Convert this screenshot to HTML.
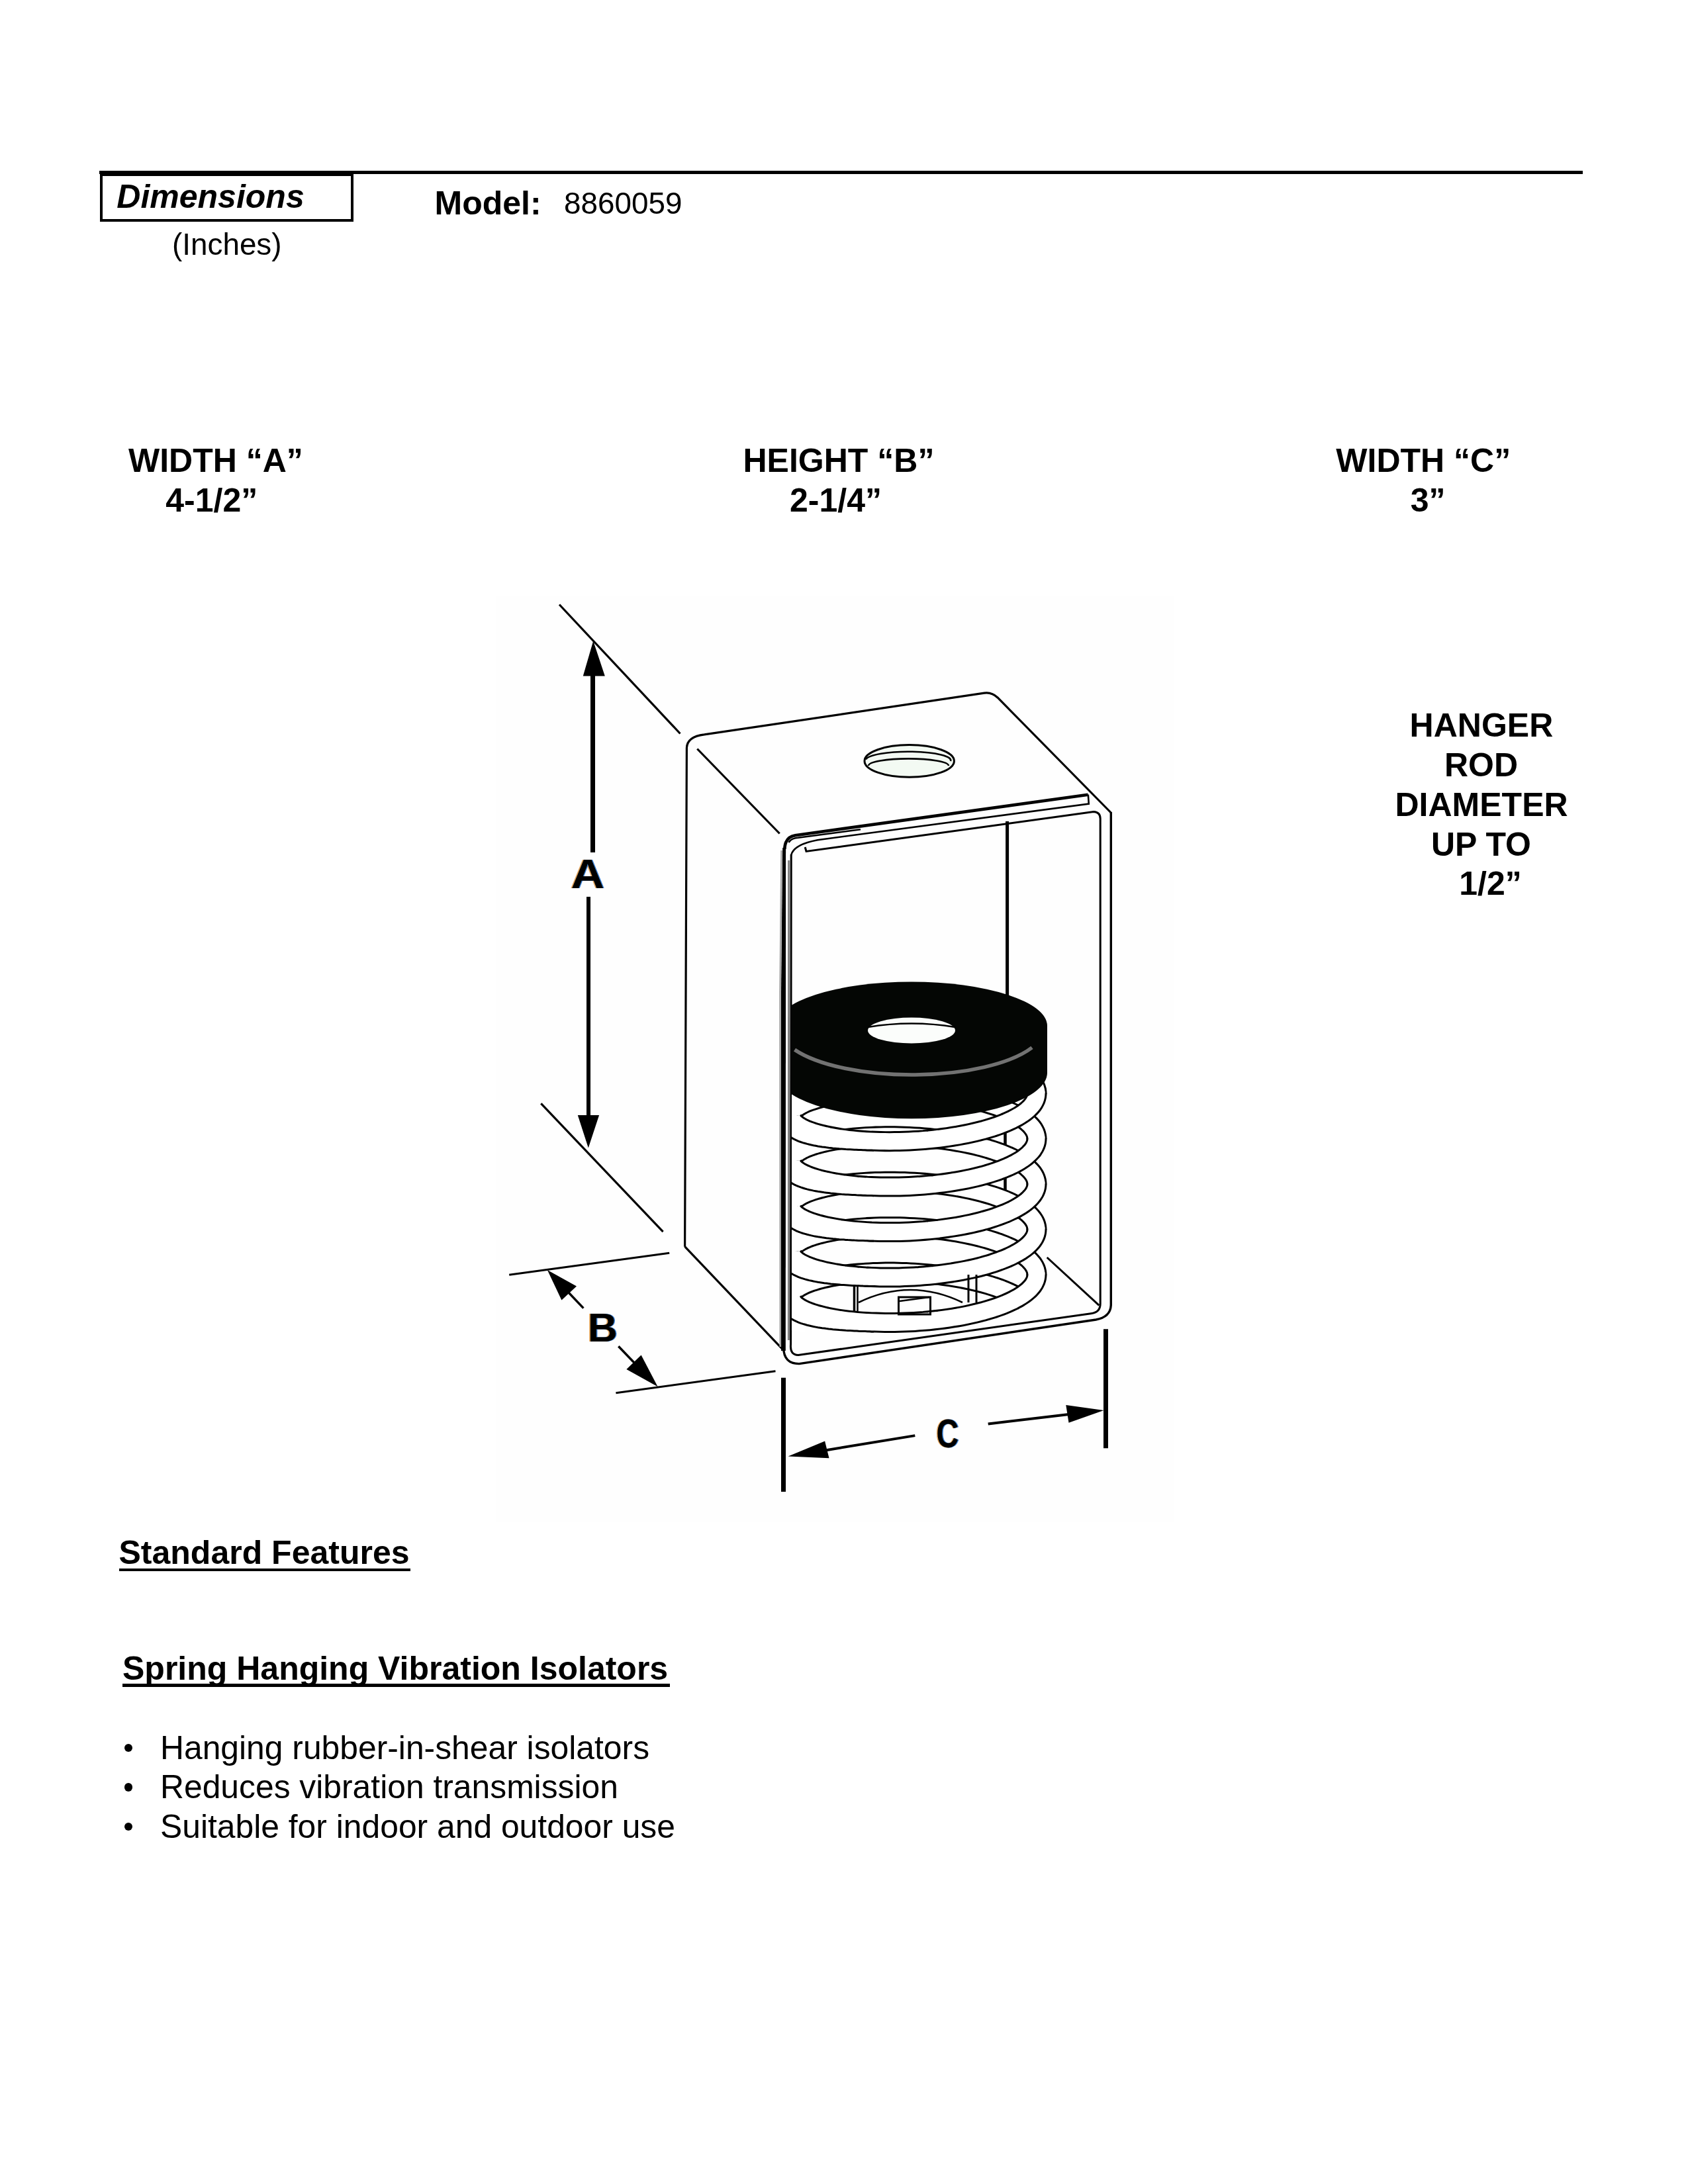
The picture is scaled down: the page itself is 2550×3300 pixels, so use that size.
<!DOCTYPE html>
<html><head><meta charset="utf-8">
<style>
html,body{margin:0;padding:0;background:#fff;}
body{width:2550px;height:3300px;position:relative;overflow:hidden;font-family:"Liberation Sans",sans-serif;color:#000;}
.t{position:absolute;white-space:pre;line-height:1;}
.b{font-weight:bold;font-size:50px;}
.r{font-size:45.83px;will-change:transform;}
.r12{font-size:49.8px;}
#hr{position:absolute;left:150px;top:258.4px;width:2241px;height:4.3px;background:#000;}
#box{position:absolute;left:151px;top:262px;width:375px;height:64.5px;border:4px solid #000;border-top-width:4.4px;}
.ul{position:absolute;background:#000;}
.dot{position:absolute;width:12.4px;height:12.4px;border-radius:50%;background:#000;}
</style></head>
<body>
<!--SVG-->
<svg style="position:absolute;left:0;top:0" width="2550" height="3300" viewBox="0 0 2550 3300">
<rect x="750" y="900" width="1024" height="1400" fill="#fefefe"/>
<line x1="845.0" y1="913.5" x2="1027.5" y2="1108.5" stroke="#000" stroke-width="3.2" />
<polygon points="896.2,968.5 913.8,1021.5 880.8,1021.5" fill="#000"/>
<line x1="895.5" y1="1020.0" x2="895.5" y2="1288.0" stroke="#000" stroke-width="7" />
<line x1="889.0" y1="1355.0" x2="889.0" y2="1686.0" stroke="#000" stroke-width="6" />
<polygon points="872.8,1685.0 905.1,1685.0 888.8,1734.6" fill="#000"/>
<line x1="817.3" y1="1667.3" x2="1001.6" y2="1861.2" stroke="#000" stroke-width="3.2" />
<line x1="769.2" y1="1926.3" x2="1011.2" y2="1893.3" stroke="#000" stroke-width="3" />
<line x1="930.4" y1="2104.8" x2="1171.5" y2="2071.8" stroke="#000" stroke-width="3" />
<polygon points="826.9,1918.9 871.0,1943.4 848.4,1964.6" fill="#000"/>
<line x1="858.0" y1="1952.0" x2="881.4" y2="1976.6" stroke="#000" stroke-width="3.4" />
<line x1="934.3" y1="2034.3" x2="959.0" y2="2060.0" stroke="#000" stroke-width="3.4" />
<polygon points="993.6,2095.2 946.4,2069.1 968.6,2047.5" fill="#000"/>
<line x1="1183.5" y1="2081.8" x2="1183.5" y2="2253.9" stroke="#000" stroke-width="7" />
<line x1="1670.5" y1="2008.2" x2="1670.5" y2="2188.3" stroke="#000" stroke-width="7" />
<polygon points="1190.6,2200.5 1246.1,2177.4 1252.5,2203.3" fill="#000"/>
<line x1="1248.0" y1="2191.2" x2="1382.3" y2="2169.1" stroke="#000" stroke-width="4" />
<line x1="1492.7" y1="2151.5" x2="1615.0" y2="2136.9" stroke="#000" stroke-width="4" />
<polygon points="1667.5,2131.0 1610.3,2123.1 1614.5,2149.7" fill="#000"/>
<path d="M1034.6,1883.7 L1037.4,1130 Q1038,1113 1064,1109.8 L1487,1047.2 Q1498,1045.5 1507,1054 L1678.3,1228" stroke="#000" stroke-width="3.2" fill="none" />
<path d="M1034.6,1883.7 L1181,2037.5" stroke="#000" stroke-width="3.2" fill="none" />
<line x1="1053.3" y1="1131.5" x2="1177.7" y2="1259.5" stroke="#000" stroke-width="3.2" />
<ellipse cx="1373.7" cy="1149.9" rx="67.7" ry="24.3" fill="#f3faf3" stroke="#000" stroke-width="3"/>
<path d="M1308,1147.5 A64,13 0 0 1 1436,1150" stroke="#000" stroke-width="2.6" fill="none" />
<path d="M1312,1157 A60,10.5 0 0 1 1433,1157" stroke="#000" stroke-width="2.6" fill="none" />
<path d="M1643.6,1200.8 L1201.3,1262.2 Q1186,1264.5 1185.3,1283" stroke="#000" stroke-width="4.6" fill="none" />
<path d="M1191.5,1273 Q1195,1266.5 1206,1265.8 L1300,1253.2" stroke="#000" stroke-width="2.6" fill="none" />
<path d="M1183.6,2036 Q1184,2061 1207.4,2060.6 L1655.6,1994 Q1677.5,1990 1678.3,1972 L1678.3,1227" stroke="#000" stroke-width="3.4" fill="none" />
<path d="M1182.2,1281 L1187.1,1281 L1186.8,2041 L1180,2041 L1180,1500 Z" fill="#000"/>
<path d="M1180.6,1285 L1178.5,1500 L1178.8,2035" fill="none" stroke="#a8a8a8" stroke-width="2.6"/>
<path d="M1195.2,1292 Q1199,1276 1235,1269.2 L1644.8,1214.5 L1643.8,1200.5" stroke="#000" stroke-width="2.6" fill="none" />
<path d="M1195.2,1291 L1194.6,2031 Q1193,2047.5 1206,2047.5 L1648,1984.7 Q1662.2,1983 1662.2,1970 L1662.2,1237 Q1662,1227 1652,1226.6 L1218,1286.4 L1216.2,1280" stroke="#000" stroke-width="3" fill="none" />
<line x1="1191.6" y1="1300" x2="1191.4" y2="2025" stroke="#808080" stroke-width="3"/>
<line x1="1581.7" y1="1900.0" x2="1660.3" y2="1972.4" stroke="#000" stroke-width="3" />
<line x1="1521.6" y1="1241.0" x2="1521.6" y2="1510.0" stroke="#000" stroke-width="5" />
<line x1="1518.5" y1="1690.0" x2="1518.5" y2="1830.0" stroke="#000" stroke-width="4.5" />
<clipPath id="spc"><rect x="1196" y="1600" width="466" height="440"/></clipPath>
<g clip-path="url(#spc)" fill="none" stroke-linecap="butt" stroke-linejoin="round">
<path d="M1547.1,1965.7 L1544.2,1963.7 L1541.2,1961.7 L1538.0,1959.8 L1534.6,1957.9 L1531.0,1956.0 L1527.3,1954.2 L1523.4,1952.4 L1519.3,1950.6 L1515.1,1948.9 L1510.7,1947.2 L1506.2,1945.6 L1501.5,1944.0 L1496.7,1942.5 L1491.7,1941.0 L1486.7,1939.6 L1481.5,1938.2 L1476.2,1936.8 L1470.8,1935.6 L1465.3,1934.3 L1459.7,1933.2 L1454.0,1932.0 L1448.2,1931.0 L1442.3,1930.0 L1436.4,1929.0 L1430.4,1928.1 L1424.3,1927.3 L1418.3,1926.5 L1412.1,1925.8 L1405.9,1925.2 L1399.7,1924.6 L1393.5,1924.1 L1387.3,1923.6 L1381.0,1923.2 L1374.8,1922.9 L1368.5,1922.6 L1362.3,1922.4 L1356.1,1922.2 L1349.9,1922.1 L1343.8,1922.1 L1337.7,1922.1 L1331.6,1922.2 L1325.6,1922.4 L1319.7,1922.6 L1313.9,1922.9 L1308.1,1923.2 L1302.4,1923.6 L1296.8,1924.0 L1291.2,1924.5 L1285.8,1925.0 L1280.5,1925.6 L1275.3,1926.3 L1270.3,1927.0 L1265.3,1927.7 L1260.5,1928.5 L1255.8,1929.4 L1251.3,1930.3 L1246.9,1931.2 L1242.7,1932.2 L1238.6,1933.2 L1234.7,1934.3 L1230.9,1935.4 L1227.4,1936.5 L1224.0,1937.7 L1220.7,1938.9 L1217.7,1940.1 L1214.8,1941.3 L1212.2,1942.6 L1209.7,1943.9 L1207.4,1945.3 L1205.3,1946.6 L1203.5,1948.0 L1201.8,1949.4 L1200.3,1950.8 L1199.0,1952.2 L1198.0,1953.7 L1197.1,1955.1 L1196.5,1956.6 L1196.1,1958.0 L1195.8,1959.5 L1195.8,1960.9" stroke="#000" stroke-width="31"/>
<path d="M1549.8,1967.8 L1547.1,1965.7 L1544.2,1963.6 L1541.1,1961.6 L1537.8,1959.6 L1534.3,1957.7 L1530.6,1955.8 L1526.7,1953.9 L1522.7,1952.1 L1518.5,1950.3 L1514.1,1948.5 L1509.6,1946.8 L1504.9,1945.2 L1500.1,1943.6 L1495.1,1942.0 L1490.0,1940.5 L1484.7,1939.0 L1479.4,1937.6 L1473.9,1936.3 L1468.3,1935.0 L1462.6,1933.8 L1456.8,1932.6 L1450.9,1931.5 L1444.9,1930.4 L1438.9,1929.4 L1432.7,1928.5 L1426.5,1927.6 L1420.3,1926.8 L1414.0,1926.0 L1407.7,1925.4 L1401.3,1924.7 L1395.0,1924.2 L1388.6,1923.7 L1382.2,1923.3 L1375.7,1922.9 L1369.3,1922.6 L1363.0,1922.4 L1356.6,1922.2 L1350.2,1922.1 L1343.9,1922.1 L1337.7,1922.1 L1331.5,1922.2 L1325.3,1922.4 L1319.3,1922.6 L1313.3,1922.9 L1307.3,1923.2 L1301.5,1923.6 L1295.7,1924.1 L1290.1,1924.6 L1284.6,1925.2 L1279.2,1925.8 L1273.9,1926.5 L1268.7,1927.2 L1263.7,1928.0 L1258.8,1928.8 L1254.0,1929.7 L1249.5,1930.6 L1245.0,1931.6 L1240.8,1932.6 L1236.6,1933.7 L1232.7,1934.8 L1229.0,1936.0 L1225.4,1937.1 L1222.0,1938.4 L1218.8,1939.6 L1215.8,1940.9 L1213.0,1942.2 L1210.4,1943.5 L1208.0,1944.9 L1205.8,1946.3 L1203.9,1947.7 L1202.1,1949.1 L1200.6,1950.6 L1199.2,1952.0 L1198.1,1953.5 L1197.2,1955.0 L1196.5,1956.5 L1196.1,1958.0 L1195.8,1959.5 L1195.8,1961.0 L1196.0,1962.5" stroke="#fff" stroke-width="25"/>
<path d="M1566.0,1927.1 L1565.9,1924.5 L1565.6,1921.9 L1565.0,1919.3 L1564.1,1916.8 L1562.9,1914.2 L1561.4,1911.7 L1559.7,1909.1 L1557.6,1906.7 L1555.3,1904.2 L1552.7,1901.7 L1549.8,1899.3 L1546.7,1897.0 L1543.3,1894.6 L1539.7,1892.3 L1535.8,1890.1 L1531.6,1887.9 L1527.2,1885.7 L1522.6,1883.6 L1517.8,1881.6 L1512.8,1879.6 L1507.5,1877.6 L1502.1,1875.8 L1496.4,1874.0 L1490.6,1872.2 L1484.6,1870.5 L1478.4,1868.9 L1472.1,1867.4 L1465.7,1866.0 L1459.1,1864.6 L1452.4,1863.3 L1445.6,1862.1 L1438.6,1860.9 L1431.6,1859.9 L1424.5,1858.9 L1417.4,1858.0 L1410.1,1857.2 L1402.9,1856.4 L1395.6,1855.8 L1388.2,1855.2 L1380.9,1854.8 L1373.6,1854.4 L1366.2,1854.1 L1358.9,1853.8 L1351.7,1853.7 L1344.4,1853.7 L1337.3,1853.7 L1330.2,1853.8 L1323.2,1854.0 L1316.2,1854.3 L1309.4,1854.6 L1302.7,1855.1 L1296.1,1855.6 L1289.7,1856.2 L1283.4,1856.9 L1277.2,1857.6 L1271.2,1858.4 L1265.4,1859.3 L1259.7,1860.2 L1254.3,1861.2 L1249.0,1862.3 L1244.0,1863.4 L1239.2,1864.6 L1234.6,1865.8 L1230.2,1867.1 L1226.0,1868.5 L1222.1,1869.9 L1218.5,1871.3 L1215.1,1872.8 L1212.0,1874.3 L1209.1,1875.8 L1206.5,1877.4 L1204.2,1879.0 L1202.1,1880.6 L1200.4,1882.3 L1198.9,1884.0 L1197.7,1885.7 L1196.8,1887.4 L1196.2,1889.1 L1195.9,1890.8 L1195.8,1892.5" stroke="#000" stroke-width="31"/>
<path d="M1565.8,1929.3 L1566.0,1926.7 L1565.9,1924.1 L1565.5,1921.4 L1564.8,1918.8 L1563.8,1916.2 L1562.6,1913.6 L1561.0,1911.0 L1559.1,1908.4 L1556.9,1905.9 L1554.4,1903.4 L1551.7,1900.9 L1548.7,1898.4 L1545.4,1896.0 L1541.8,1893.6 L1537.9,1891.3 L1533.8,1889.0 L1529.5,1886.8 L1524.9,1884.6 L1520.1,1882.5 L1515.0,1880.4 L1509.7,1878.4 L1504.2,1876.5 L1498.6,1874.6 L1492.7,1872.8 L1486.6,1871.1 L1480.4,1869.4 L1474.0,1867.8 L1467.4,1866.3 L1460.7,1864.9 L1453.9,1863.6 L1446.9,1862.3 L1439.9,1861.1 L1432.7,1860.0 L1425.5,1859.0 L1418.1,1858.1 L1410.8,1857.2 L1403.3,1856.5 L1395.9,1855.8 L1388.4,1855.2 L1380.9,1854.8 L1373.4,1854.4 L1365.9,1854.1 L1358.5,1853.8 L1351.0,1853.7 L1343.7,1853.7 L1336.3,1853.7 L1329.1,1853.8 L1321.9,1854.1 L1314.9,1854.4 L1307.9,1854.7 L1301.1,1855.2 L1294.4,1855.7 L1287.8,1856.4 L1281.4,1857.1 L1275.2,1857.8 L1269.1,1858.7 L1263.2,1859.6 L1257.6,1860.6 L1252.1,1861.7 L1246.8,1862.8 L1241.7,1864.0 L1236.9,1865.2 L1232.3,1866.5 L1228.0,1867.8 L1223.9,1869.2 L1220.0,1870.7 L1216.4,1872.2 L1213.1,1873.7 L1210.1,1875.3 L1207.4,1876.9 L1204.9,1878.5 L1202.7,1880.2 L1200.8,1881.8 L1199.2,1883.6 L1198.0,1885.3 L1197.0,1887.0 L1196.3,1888.8 L1195.9,1890.5 L1195.8,1892.3 L1196.0,1894.0" stroke="#fff" stroke-width="25"/>
<path d="M1566.0,1858.6 L1565.9,1856.0 L1565.6,1853.4 L1565.0,1850.9 L1564.1,1848.3 L1562.9,1845.8 L1561.4,1843.2 L1559.7,1840.7 L1557.6,1838.2 L1555.3,1835.7 L1552.7,1833.3 L1549.8,1830.9 L1546.7,1828.5 L1543.3,1826.2 L1539.7,1823.9 L1535.8,1821.6 L1531.6,1819.4 L1527.2,1817.3 L1522.6,1815.2 L1517.8,1813.1 L1512.8,1811.1 L1507.5,1809.2 L1502.1,1807.3 L1496.4,1805.5 L1490.6,1803.8 L1484.6,1802.1 L1478.4,1800.5 L1472.1,1799.0 L1465.7,1797.5 L1459.1,1796.1 L1452.4,1794.8 L1445.6,1793.6 L1438.6,1792.5 L1431.6,1791.4 L1424.5,1790.4 L1417.4,1789.5 L1410.1,1788.7 L1402.9,1788.0 L1395.6,1787.3 L1388.2,1786.8 L1380.9,1786.3 L1373.6,1785.9 L1366.2,1785.6 L1358.9,1785.4 L1351.7,1785.3 L1344.4,1785.2 L1337.3,1785.2 L1330.2,1785.4 L1323.2,1785.6 L1316.2,1785.8 L1309.4,1786.2 L1302.7,1786.6 L1296.1,1787.1 L1289.7,1787.7 L1283.4,1788.4 L1277.2,1789.1 L1271.2,1789.9 L1265.4,1790.8 L1259.7,1791.8 L1254.3,1792.8 L1249.0,1793.8 L1244.0,1795.0 L1239.2,1796.2 L1234.6,1797.4 L1230.2,1798.7 L1226.0,1800.0 L1222.1,1801.4 L1218.5,1802.8 L1215.1,1804.3 L1212.0,1805.8 L1209.1,1807.4 L1206.5,1809.0 L1204.2,1810.6 L1202.1,1812.2 L1200.4,1813.8 L1198.9,1815.5 L1197.7,1817.2 L1196.8,1818.9 L1196.2,1820.6 L1195.9,1822.3 L1195.8,1824.0" stroke="#000" stroke-width="31"/>
<path d="M1565.8,1860.9 L1566.0,1858.2 L1565.9,1855.6 L1565.5,1853.0 L1564.8,1850.3 L1563.8,1847.7 L1562.6,1845.1 L1561.0,1842.5 L1559.1,1840.0 L1556.9,1837.4 L1554.4,1834.9 L1551.7,1832.4 L1548.7,1830.0 L1545.4,1827.6 L1541.8,1825.2 L1537.9,1822.9 L1533.8,1820.6 L1529.5,1818.3 L1524.9,1816.2 L1520.1,1814.0 L1515.0,1812.0 L1509.7,1810.0 L1504.2,1808.0 L1498.6,1806.2 L1492.7,1804.4 L1486.6,1802.6 L1480.4,1801.0 L1474.0,1799.4 L1467.4,1797.9 L1460.7,1796.5 L1453.9,1795.1 L1446.9,1793.8 L1439.9,1792.7 L1432.7,1791.6 L1425.5,1790.6 L1418.1,1789.6 L1410.8,1788.8 L1403.3,1788.0 L1395.9,1787.4 L1388.4,1786.8 L1380.9,1786.3 L1373.4,1785.9 L1365.9,1785.6 L1358.5,1785.4 L1351.0,1785.3 L1343.7,1785.2 L1336.3,1785.3 L1329.1,1785.4 L1321.9,1785.6 L1314.9,1785.9 L1307.9,1786.3 L1301.1,1786.8 L1294.4,1787.3 L1287.8,1787.9 L1281.4,1788.6 L1275.2,1789.4 L1269.1,1790.2 L1263.2,1791.2 L1257.6,1792.2 L1252.1,1793.2 L1246.8,1794.3 L1241.7,1795.5 L1236.9,1796.7 L1232.3,1798.0 L1228.0,1799.4 L1223.9,1800.8 L1220.0,1802.2 L1216.4,1803.7 L1213.1,1805.3 L1210.1,1806.8 L1207.4,1808.4 L1204.9,1810.1 L1202.7,1811.7 L1200.8,1813.4 L1199.2,1815.1 L1198.0,1816.8 L1197.0,1818.6 L1196.3,1820.3 L1195.9,1822.1 L1195.8,1823.8 L1196.0,1825.6" stroke="#fff" stroke-width="25"/>
<path d="M1566.0,1790.2 L1565.9,1787.6 L1565.6,1785.0 L1565.0,1782.4 L1564.1,1779.9 L1562.9,1777.3 L1561.4,1774.8 L1559.7,1772.2 L1557.6,1769.8 L1555.3,1767.3 L1552.7,1764.8 L1549.8,1762.4 L1546.7,1760.1 L1543.3,1757.7 L1539.7,1755.4 L1535.8,1753.2 L1531.6,1751.0 L1527.2,1748.8 L1522.6,1746.7 L1517.8,1744.7 L1512.8,1742.7 L1507.5,1740.7 L1502.1,1738.9 L1496.4,1737.1 L1490.6,1735.3 L1484.6,1733.6 L1478.4,1732.0 L1472.1,1730.5 L1465.7,1729.1 L1459.1,1727.7 L1452.4,1726.4 L1445.6,1725.2 L1438.6,1724.0 L1431.6,1723.0 L1424.5,1722.0 L1417.4,1721.1 L1410.1,1720.3 L1402.9,1719.5 L1395.6,1718.9 L1388.2,1718.3 L1380.9,1717.9 L1373.6,1717.5 L1366.2,1717.2 L1358.9,1716.9 L1351.7,1716.8 L1344.4,1716.8 L1337.3,1716.8 L1330.2,1716.9 L1323.2,1717.1 L1316.2,1717.4 L1309.4,1717.7 L1302.7,1718.2 L1296.1,1718.7 L1289.7,1719.3 L1283.4,1720.0 L1277.2,1720.7 L1271.2,1721.5 L1265.4,1722.4 L1259.7,1723.3 L1254.3,1724.3 L1249.0,1725.4 L1244.0,1726.5 L1239.2,1727.7 L1234.6,1728.9 L1230.2,1730.2 L1226.0,1731.6 L1222.1,1733.0 L1218.5,1734.4 L1215.1,1735.9 L1212.0,1737.4 L1209.1,1738.9 L1206.5,1740.5 L1204.2,1742.1 L1202.1,1743.7 L1200.4,1745.4 L1198.9,1747.1 L1197.7,1748.8 L1196.8,1750.5 L1196.2,1752.2 L1195.9,1753.9 L1195.8,1755.6" stroke="#000" stroke-width="31"/>
<path d="M1565.8,1792.4 L1566.0,1789.8 L1565.9,1787.2 L1565.5,1784.5 L1564.8,1781.9 L1563.8,1779.3 L1562.6,1776.7 L1561.0,1774.1 L1559.1,1771.5 L1556.9,1769.0 L1554.4,1766.5 L1551.7,1764.0 L1548.7,1761.5 L1545.4,1759.1 L1541.8,1756.7 L1537.9,1754.4 L1533.8,1752.1 L1529.5,1749.9 L1524.9,1747.7 L1520.1,1745.6 L1515.0,1743.5 L1509.7,1741.5 L1504.2,1739.6 L1498.6,1737.7 L1492.7,1735.9 L1486.6,1734.2 L1480.4,1732.5 L1474.0,1730.9 L1467.4,1729.4 L1460.7,1728.0 L1453.9,1726.7 L1446.9,1725.4 L1439.9,1724.2 L1432.7,1723.1 L1425.5,1722.1 L1418.1,1721.2 L1410.8,1720.3 L1403.3,1719.6 L1395.9,1718.9 L1388.4,1718.3 L1380.9,1717.9 L1373.4,1717.5 L1365.9,1717.2 L1358.5,1716.9 L1351.0,1716.8 L1343.7,1716.8 L1336.3,1716.8 L1329.1,1716.9 L1321.9,1717.2 L1314.9,1717.5 L1307.9,1717.8 L1301.1,1718.3 L1294.4,1718.8 L1287.8,1719.5 L1281.4,1720.2 L1275.2,1720.9 L1269.1,1721.8 L1263.2,1722.7 L1257.6,1723.7 L1252.1,1724.8 L1246.8,1725.9 L1241.7,1727.1 L1236.9,1728.3 L1232.3,1729.6 L1228.0,1730.9 L1223.9,1732.3 L1220.0,1733.8 L1216.4,1735.3 L1213.1,1736.8 L1210.1,1738.4 L1207.4,1740.0 L1204.9,1741.6 L1202.7,1743.3 L1200.8,1744.9 L1199.2,1746.7 L1198.0,1748.4 L1197.0,1750.1 L1196.3,1751.9 L1195.9,1753.6 L1195.8,1755.4 L1196.0,1757.1" stroke="#fff" stroke-width="25"/>
<path d="M1566.0,1721.7 L1565.9,1719.1 L1565.6,1716.5 L1565.0,1714.0 L1564.1,1711.4 L1562.9,1708.9 L1561.4,1706.3 L1559.7,1703.8 L1557.6,1701.3 L1555.3,1698.8 L1552.7,1696.4 L1549.8,1694.0 L1546.7,1691.6 L1543.3,1689.3 L1539.7,1687.0 L1535.8,1684.7 L1531.6,1682.5 L1527.2,1680.4 L1522.6,1678.3 L1517.8,1676.2 L1512.8,1674.2 L1507.5,1672.3 L1502.1,1670.4 L1496.4,1668.6 L1490.6,1666.9 L1484.6,1665.2 L1478.4,1663.6 L1472.1,1662.1 L1465.7,1660.6 L1459.1,1659.2 L1452.4,1657.9 L1445.6,1656.7 L1438.6,1655.6 L1431.6,1654.5 L1424.5,1653.5 L1417.4,1652.6 L1410.1,1651.8 L1402.9,1651.1 L1395.6,1650.4 L1388.2,1649.9 L1380.9,1649.4 L1373.6,1649.0 L1366.2,1648.7 L1358.9,1648.5 L1351.7,1648.4 L1344.4,1648.3 L1337.3,1648.3 L1330.2,1648.5 L1323.2,1648.7 L1316.2,1648.9 L1309.4,1649.3 L1302.7,1649.7 L1296.1,1650.2 L1289.7,1650.8 L1283.4,1651.5 L1277.2,1652.2 L1271.2,1653.0 L1265.4,1653.9 L1259.7,1654.9 L1254.3,1655.9 L1249.0,1656.9 L1244.0,1658.1 L1239.2,1659.3 L1234.6,1660.5 L1230.2,1661.8 L1226.0,1663.1 L1222.1,1664.5 L1218.5,1665.9 L1215.1,1667.4 L1212.0,1668.9 L1209.1,1670.5 L1206.5,1672.1 L1204.2,1673.7 L1202.1,1675.3 L1200.4,1676.9 L1198.9,1678.6 L1197.7,1680.3 L1196.8,1682.0 L1196.2,1683.7 L1195.9,1685.4 L1195.8,1687.1" stroke="#000" stroke-width="31"/>
<path d="M1565.8,1724.0 L1566.0,1721.3 L1565.9,1718.7 L1565.5,1716.1 L1564.8,1713.4 L1563.8,1710.8 L1562.6,1708.2 L1561.0,1705.6 L1559.1,1703.1 L1556.9,1700.5 L1554.4,1698.0 L1551.7,1695.5 L1548.7,1693.1 L1545.4,1690.7 L1541.8,1688.3 L1537.9,1686.0 L1533.8,1683.7 L1529.5,1681.4 L1524.9,1679.3 L1520.1,1677.1 L1515.0,1675.1 L1509.7,1673.1 L1504.2,1671.1 L1498.6,1669.3 L1492.7,1667.5 L1486.6,1665.7 L1480.4,1664.1 L1474.0,1662.5 L1467.4,1661.0 L1460.7,1659.6 L1453.9,1658.2 L1446.9,1656.9 L1439.9,1655.8 L1432.7,1654.7 L1425.5,1653.7 L1418.1,1652.7 L1410.8,1651.9 L1403.3,1651.1 L1395.9,1650.5 L1388.4,1649.9 L1380.9,1649.4 L1373.4,1649.0 L1365.9,1648.7 L1358.5,1648.5 L1351.0,1648.4 L1343.7,1648.3 L1336.3,1648.4 L1329.1,1648.5 L1321.9,1648.7 L1314.9,1649.0 L1307.9,1649.4 L1301.1,1649.9 L1294.4,1650.4 L1287.8,1651.0 L1281.4,1651.7 L1275.2,1652.5 L1269.1,1653.3 L1263.2,1654.3 L1257.6,1655.3 L1252.1,1656.3 L1246.8,1657.4 L1241.7,1658.6 L1236.9,1659.8 L1232.3,1661.1 L1228.0,1662.5 L1223.9,1663.9 L1220.0,1665.3 L1216.4,1666.8 L1213.1,1668.4 L1210.1,1669.9 L1207.4,1671.5 L1204.9,1673.2 L1202.7,1674.8 L1200.8,1676.5 L1199.2,1678.2 L1198.0,1679.9 L1197.0,1681.7 L1196.3,1683.4 L1195.9,1685.2 L1195.8,1686.9 L1196.0,1688.7" stroke="#fff" stroke-width="25"/>
<path d="M1566.0,1653.3 L1566.0,1652.7 L1566.0,1652.2 L1566.0,1651.6 L1566.0,1651.1 L1565.9,1650.6 L1565.9,1650.0 L1565.8,1649.5 L1565.8,1649.0 L1565.7,1648.4 L1565.6,1647.9 L1565.5,1647.4 L1565.4,1646.8 L1565.2,1646.3 L1565.1,1645.8 L1564.9,1645.2 L1564.7,1644.7 L1564.6,1644.2 L1564.4,1643.6 L1564.2,1643.1 L1563.9,1642.6 L1563.7,1642.0 L1563.5,1641.5 L1563.2,1641.0 L1562.9,1640.5 L1562.6,1639.9 L1562.3,1639.4 L1562.0,1638.9 L1561.7,1638.3 L1561.4,1637.8 L1561.0,1637.3 L1560.7,1636.8 L1560.3,1636.2 L1559.9,1635.7 L1559.5,1635.2 L1559.1,1634.7 L1558.7,1634.2 L1558.3,1633.7 L1557.9,1633.1 L1557.4,1632.6 L1556.9,1632.1 L1556.5,1631.6 L1556.0,1631.1 L1555.5,1630.6 L1555.0,1630.1 L1554.4,1629.5 L1553.9,1629.0 L1553.4,1628.5 L1552.8,1628.0 L1552.2,1627.5 L1551.6,1627.0 L1551.0,1626.5 L1550.4,1626.0 L1549.8,1625.5 L1549.2,1625.0 L1548.6,1624.5 L1547.9,1624.0 L1547.2,1623.6 L1546.6,1623.1 L1545.9,1622.6 L1545.2,1622.1 L1544.5,1621.6 L1543.8,1621.1 L1543.0,1620.6 L1542.3,1620.2 L1541.5,1619.7 L1540.8,1619.2 L1540.0,1618.7 L1539.2,1618.3 L1538.4,1617.8 L1537.6,1617.3 L1536.8,1616.9 L1536.0,1616.4 L1535.1,1615.9 L1534.3,1615.5 L1533.4,1615.0 L1532.6,1614.6 L1531.7,1614.1 L1530.8,1613.7 L1529.9,1613.2 L1529.0,1612.8" stroke="#000" stroke-width="31"/>
<path d="M1565.8,1655.5 L1565.8,1654.9 L1565.9,1654.3 L1566.0,1653.8 L1566.0,1653.2 L1566.0,1652.6 L1566.0,1652.0 L1566.0,1651.4 L1566.0,1650.8 L1565.9,1650.2 L1565.8,1649.6 L1565.8,1649.0 L1565.7,1648.4 L1565.6,1647.8 L1565.4,1647.2 L1565.3,1646.6 L1565.2,1646.1 L1565.0,1645.5 L1564.8,1644.9 L1564.6,1644.3 L1564.4,1643.7 L1564.2,1643.1 L1563.9,1642.5 L1563.7,1641.9 L1563.4,1641.4 L1563.1,1640.8 L1562.8,1640.2 L1562.5,1639.6 L1562.1,1639.0 L1561.8,1638.4 L1561.4,1637.9 L1561.0,1637.3 L1560.6,1636.7 L1560.2,1636.1 L1559.8,1635.5 L1559.4,1635.0 L1558.9,1634.4 L1558.4,1633.8 L1558.0,1633.2 L1557.5,1632.7 L1556.9,1632.1 L1556.4,1631.5 L1555.9,1631.0 L1555.3,1630.4 L1554.7,1629.8 L1554.2,1629.3 L1553.6,1628.7 L1552.9,1628.2 L1552.3,1627.6 L1551.7,1627.0 L1551.0,1626.5 L1550.3,1625.9 L1549.7,1625.4 L1549.0,1624.8 L1548.2,1624.3 L1547.5,1623.8 L1546.8,1623.2 L1546.0,1622.7 L1545.3,1622.1 L1544.5,1621.6 L1543.7,1621.1 L1542.9,1620.5 L1542.0,1620.0 L1541.2,1619.5 L1540.4,1618.9 L1539.5,1618.4 L1538.6,1617.9 L1537.7,1617.4 L1536.8,1616.9 L1535.9,1616.4 L1535.0,1615.8 L1534.0,1615.3 L1533.1,1614.8 L1532.1,1614.3 L1531.2,1613.8 L1530.2,1613.3 L1529.2,1612.8 L1528.1,1612.3 L1527.1,1611.8 L1526.1,1611.4 L1525.0,1610.9" stroke="#fff" stroke-width="25"/>
<path d="M1195.8,1959.7 L1195.9,1961.4 L1196.2,1963.1 L1196.8,1964.8 L1197.7,1966.5 L1198.9,1968.2 L1200.4,1969.9 L1202.1,1971.5 L1204.2,1973.1 L1206.5,1974.7 L1209.1,1976.3 L1212.0,1977.9 L1215.1,1979.4 L1218.5,1980.9 L1222.1,1982.3 L1226.0,1983.7 L1230.2,1985.0 L1234.6,1986.3 L1239.2,1987.5 L1244.0,1988.7 L1249.0,1989.9 L1254.3,1990.9 L1259.7,1991.9 L1265.4,1992.9 L1271.2,1993.8 L1277.2,1994.6 L1283.4,1995.3 L1289.7,1996.0 L1296.1,1996.6 L1302.7,1997.1 L1309.4,1997.5 L1316.2,1997.9 L1323.2,1998.1 L1330.2,1998.3 L1337.3,1998.5 L1344.4,1998.5 L1351.7,1998.4 L1358.9,1998.3 L1366.2,1998.1 L1373.6,1997.8 L1380.9,1997.4 L1388.2,1996.9 L1395.6,1996.4 L1402.9,1995.7 L1410.1,1995.0 L1417.4,1994.2 L1424.5,1993.3 L1431.6,1992.3 L1438.6,1991.2 L1445.6,1990.1 L1452.4,1988.9 L1459.1,1987.6 L1465.7,1986.2 L1472.1,1984.7 L1478.4,1983.2 L1484.6,1981.6 L1490.6,1979.9 L1496.4,1978.2 L1502.1,1976.4 L1507.5,1974.5 L1512.8,1972.6 L1517.8,1970.6 L1522.6,1968.5 L1527.2,1966.4 L1531.6,1964.3 L1535.8,1962.1 L1539.7,1959.8 L1543.3,1957.5 L1546.7,1955.2 L1549.8,1952.8 L1552.7,1950.4 L1555.3,1948.0 L1557.6,1945.5 L1559.7,1943.0 L1561.4,1940.5 L1562.9,1937.9 L1564.1,1935.4 L1565.0,1932.8 L1565.6,1930.3 L1565.9,1927.7 L1566.0,1925.1" stroke="#000" stroke-width="31"/>
<path d="M1196.0,1958.1 L1195.8,1959.9 L1195.9,1961.6 L1196.3,1963.4 L1197.0,1965.1 L1198.0,1966.9 L1199.2,1968.6 L1200.8,1970.3 L1202.7,1972.0 L1204.9,1973.6 L1207.4,1975.3 L1210.1,1976.9 L1213.1,1978.4 L1216.4,1980.0 L1220.0,1981.5 L1223.9,1982.9 L1228.0,1984.3 L1232.3,1985.7 L1236.9,1987.0 L1241.7,1988.2 L1246.8,1989.4 L1252.1,1990.5 L1257.6,1991.5 L1263.2,1992.5 L1269.1,1993.5 L1275.2,1994.3 L1281.4,1995.1 L1287.8,1995.8 L1294.4,1996.4 L1301.1,1996.9 L1307.9,1997.4 L1314.9,1997.8 L1321.9,1998.1 L1329.1,1998.3 L1336.3,1998.4 L1343.7,1998.5 L1351.0,1998.4 L1358.5,1998.3 L1365.9,1998.1 L1373.4,1997.8 L1380.9,1997.4 L1388.4,1996.9 L1395.9,1996.3 L1403.3,1995.7 L1410.8,1994.9 L1418.1,1994.1 L1425.5,1993.1 L1432.7,1992.1 L1439.9,1991.0 L1446.9,1989.9 L1453.9,1988.6 L1460.7,1987.2 L1467.4,1985.8 L1474.0,1984.3 L1480.4,1982.7 L1486.6,1981.1 L1492.7,1979.3 L1498.6,1977.5 L1504.2,1975.7 L1509.7,1973.7 L1515.0,1971.7 L1520.1,1969.7 L1524.9,1967.5 L1529.5,1965.4 L1533.8,1963.1 L1537.9,1960.8 L1541.8,1958.5 L1545.4,1956.1 L1548.7,1953.7 L1551.7,1951.3 L1554.4,1948.8 L1556.9,1946.3 L1559.1,1943.7 L1561.0,1941.2 L1562.6,1938.6 L1563.8,1936.0 L1564.8,1933.4 L1565.5,1930.7 L1565.9,1928.1 L1566.0,1925.5 L1565.8,1922.8" stroke="#fff" stroke-width="25"/>
<path d="M1195.8,1891.2 L1195.9,1892.9 L1196.2,1894.6 L1196.8,1896.3 L1197.7,1898.0 L1198.9,1899.7 L1200.4,1901.4 L1202.1,1903.1 L1204.2,1904.7 L1206.5,1906.3 L1209.1,1907.9 L1212.0,1909.4 L1215.1,1910.9 L1218.5,1912.4 L1222.1,1913.8 L1226.0,1915.2 L1230.2,1916.6 L1234.6,1917.9 L1239.2,1919.1 L1244.0,1920.3 L1249.0,1921.4 L1254.3,1922.5 L1259.7,1923.5 L1265.4,1924.4 L1271.2,1925.3 L1277.2,1926.1 L1283.4,1926.8 L1289.7,1927.5 L1296.1,1928.1 L1302.7,1928.6 L1309.4,1929.1 L1316.2,1929.4 L1323.2,1929.7 L1330.2,1929.9 L1337.3,1930.0 L1344.4,1930.0 L1351.7,1930.0 L1358.9,1929.9 L1366.2,1929.6 L1373.6,1929.3 L1380.9,1928.9 L1388.2,1928.5 L1395.6,1927.9 L1402.9,1927.3 L1410.1,1926.5 L1417.4,1925.7 L1424.5,1924.8 L1431.6,1923.8 L1438.6,1922.8 L1445.6,1921.6 L1452.4,1920.4 L1459.1,1919.1 L1465.7,1917.7 L1472.1,1916.3 L1478.4,1914.8 L1484.6,1913.2 L1490.6,1911.5 L1496.4,1909.7 L1502.1,1907.9 L1507.5,1906.1 L1512.8,1904.1 L1517.8,1902.1 L1522.6,1900.1 L1527.2,1898.0 L1531.6,1895.8 L1535.8,1893.6 L1539.7,1891.4 L1543.3,1889.1 L1546.7,1886.7 L1549.8,1884.4 L1552.7,1882.0 L1555.3,1879.5 L1557.6,1877.0 L1559.7,1874.6 L1561.4,1872.0 L1562.9,1869.5 L1564.1,1866.9 L1565.0,1864.4 L1565.6,1861.8 L1565.9,1859.2 L1566.0,1856.6" stroke="#000" stroke-width="31"/>
<path d="M1196.0,1889.7 L1195.8,1891.4 L1195.9,1893.2 L1196.3,1894.9 L1197.0,1896.7 L1198.0,1898.4 L1199.2,1900.1 L1200.8,1901.9 L1202.7,1903.5 L1204.9,1905.2 L1207.4,1906.8 L1210.1,1908.4 L1213.1,1910.0 L1216.4,1911.5 L1220.0,1913.0 L1223.9,1914.5 L1228.0,1915.9 L1232.3,1917.2 L1236.9,1918.5 L1241.7,1919.7 L1246.8,1920.9 L1252.1,1922.0 L1257.6,1923.1 L1263.2,1924.1 L1269.1,1925.0 L1275.2,1925.9 L1281.4,1926.6 L1287.8,1927.3 L1294.4,1928.0 L1301.1,1928.5 L1307.9,1929.0 L1314.9,1929.3 L1321.9,1929.6 L1329.1,1929.9 L1336.3,1930.0 L1343.7,1930.0 L1351.0,1930.0 L1358.5,1929.9 L1365.9,1929.6 L1373.4,1929.3 L1380.9,1928.9 L1388.4,1928.5 L1395.9,1927.9 L1403.3,1927.2 L1410.8,1926.5 L1418.1,1925.6 L1425.5,1924.7 L1432.7,1923.7 L1439.9,1922.6 L1446.9,1921.4 L1453.9,1920.1 L1460.7,1918.8 L1467.4,1917.4 L1474.0,1915.9 L1480.4,1914.3 L1486.6,1912.6 L1492.7,1910.9 L1498.6,1909.1 L1504.2,1907.2 L1509.7,1905.3 L1515.0,1903.3 L1520.1,1901.2 L1524.9,1899.1 L1529.5,1896.9 L1533.8,1894.7 L1537.9,1892.4 L1541.8,1890.1 L1545.4,1887.7 L1548.7,1885.3 L1551.7,1882.8 L1554.4,1880.3 L1556.9,1877.8 L1559.1,1875.3 L1561.0,1872.7 L1562.6,1870.1 L1563.8,1867.5 L1564.8,1864.9 L1565.5,1862.3 L1565.9,1859.6 L1566.0,1857.0 L1565.8,1854.4" stroke="#fff" stroke-width="25"/>
<path d="M1195.8,1822.8 L1195.9,1824.5 L1196.2,1826.2 L1196.8,1827.9 L1197.7,1829.6 L1198.9,1831.3 L1200.4,1833.0 L1202.1,1834.6 L1204.2,1836.2 L1206.5,1837.8 L1209.1,1839.4 L1212.0,1841.0 L1215.1,1842.5 L1218.5,1844.0 L1222.1,1845.4 L1226.0,1846.8 L1230.2,1848.1 L1234.6,1849.4 L1239.2,1850.6 L1244.0,1851.8 L1249.0,1853.0 L1254.3,1854.0 L1259.7,1855.0 L1265.4,1856.0 L1271.2,1856.9 L1277.2,1857.7 L1283.4,1858.4 L1289.7,1859.1 L1296.1,1859.7 L1302.7,1860.2 L1309.4,1860.6 L1316.2,1861.0 L1323.2,1861.2 L1330.2,1861.4 L1337.3,1861.6 L1344.4,1861.6 L1351.7,1861.5 L1358.9,1861.4 L1366.2,1861.2 L1373.6,1860.9 L1380.9,1860.5 L1388.2,1860.0 L1395.6,1859.5 L1402.9,1858.8 L1410.1,1858.1 L1417.4,1857.3 L1424.5,1856.4 L1431.6,1855.4 L1438.6,1854.3 L1445.6,1853.2 L1452.4,1852.0 L1459.1,1850.7 L1465.7,1849.3 L1472.1,1847.8 L1478.4,1846.3 L1484.6,1844.7 L1490.6,1843.0 L1496.4,1841.3 L1502.1,1839.5 L1507.5,1837.6 L1512.8,1835.7 L1517.8,1833.7 L1522.6,1831.6 L1527.2,1829.5 L1531.6,1827.4 L1535.8,1825.2 L1539.7,1822.9 L1543.3,1820.6 L1546.7,1818.3 L1549.8,1815.9 L1552.7,1813.5 L1555.3,1811.1 L1557.6,1808.6 L1559.7,1806.1 L1561.4,1803.6 L1562.9,1801.0 L1564.1,1798.5 L1565.0,1795.9 L1565.6,1793.4 L1565.9,1790.8 L1566.0,1788.2" stroke="#000" stroke-width="31"/>
<path d="M1196.0,1821.2 L1195.8,1823.0 L1195.9,1824.7 L1196.3,1826.5 L1197.0,1828.2 L1198.0,1830.0 L1199.2,1831.7 L1200.8,1833.4 L1202.7,1835.1 L1204.9,1836.7 L1207.4,1838.4 L1210.1,1840.0 L1213.1,1841.5 L1216.4,1843.1 L1220.0,1844.6 L1223.9,1846.0 L1228.0,1847.4 L1232.3,1848.8 L1236.9,1850.1 L1241.7,1851.3 L1246.8,1852.5 L1252.1,1853.6 L1257.6,1854.6 L1263.2,1855.6 L1269.1,1856.6 L1275.2,1857.4 L1281.4,1858.2 L1287.8,1858.9 L1294.4,1859.5 L1301.1,1860.0 L1307.9,1860.5 L1314.9,1860.9 L1321.9,1861.2 L1329.1,1861.4 L1336.3,1861.5 L1343.7,1861.6 L1351.0,1861.5 L1358.5,1861.4 L1365.9,1861.2 L1373.4,1860.9 L1380.9,1860.5 L1388.4,1860.0 L1395.9,1859.4 L1403.3,1858.8 L1410.8,1858.0 L1418.1,1857.2 L1425.5,1856.2 L1432.7,1855.2 L1439.9,1854.1 L1446.9,1853.0 L1453.9,1851.7 L1460.7,1850.3 L1467.4,1848.9 L1474.0,1847.4 L1480.4,1845.8 L1486.6,1844.2 L1492.7,1842.4 L1498.6,1840.6 L1504.2,1838.8 L1509.7,1836.8 L1515.0,1834.8 L1520.1,1832.8 L1524.9,1830.6 L1529.5,1828.5 L1533.8,1826.2 L1537.9,1823.9 L1541.8,1821.6 L1545.4,1819.2 L1548.7,1816.8 L1551.7,1814.4 L1554.4,1811.9 L1556.9,1809.4 L1559.1,1806.8 L1561.0,1804.3 L1562.6,1801.7 L1563.8,1799.1 L1564.8,1796.5 L1565.5,1793.8 L1565.9,1791.2 L1566.0,1788.6 L1565.8,1785.9" stroke="#fff" stroke-width="25"/>
<path d="M1195.8,1754.3 L1195.9,1756.0 L1196.2,1757.7 L1196.8,1759.4 L1197.7,1761.1 L1198.9,1762.8 L1200.4,1764.5 L1202.1,1766.2 L1204.2,1767.8 L1206.5,1769.4 L1209.1,1771.0 L1212.0,1772.5 L1215.1,1774.0 L1218.5,1775.5 L1222.1,1776.9 L1226.0,1778.3 L1230.2,1779.7 L1234.6,1781.0 L1239.2,1782.2 L1244.0,1783.4 L1249.0,1784.5 L1254.3,1785.6 L1259.7,1786.6 L1265.4,1787.5 L1271.2,1788.4 L1277.2,1789.2 L1283.4,1789.9 L1289.7,1790.6 L1296.1,1791.2 L1302.7,1791.7 L1309.4,1792.2 L1316.2,1792.5 L1323.2,1792.8 L1330.2,1793.0 L1337.3,1793.1 L1344.4,1793.1 L1351.7,1793.1 L1358.9,1793.0 L1366.2,1792.7 L1373.6,1792.4 L1380.9,1792.0 L1388.2,1791.6 L1395.6,1791.0 L1402.9,1790.4 L1410.1,1789.6 L1417.4,1788.8 L1424.5,1787.9 L1431.6,1786.9 L1438.6,1785.9 L1445.6,1784.7 L1452.4,1783.5 L1459.1,1782.2 L1465.7,1780.8 L1472.1,1779.4 L1478.4,1777.9 L1484.6,1776.3 L1490.6,1774.6 L1496.4,1772.8 L1502.1,1771.0 L1507.5,1769.2 L1512.8,1767.2 L1517.8,1765.2 L1522.6,1763.2 L1527.2,1761.1 L1531.6,1758.9 L1535.8,1756.7 L1539.7,1754.5 L1543.3,1752.2 L1546.7,1749.8 L1549.8,1747.5 L1552.7,1745.1 L1555.3,1742.6 L1557.6,1740.1 L1559.7,1737.7 L1561.4,1735.1 L1562.9,1732.6 L1564.1,1730.0 L1565.0,1727.5 L1565.6,1724.9 L1565.9,1722.3 L1566.0,1719.7" stroke="#000" stroke-width="31"/>
<path d="M1196.0,1752.8 L1195.8,1754.5 L1195.9,1756.3 L1196.3,1758.0 L1197.0,1759.8 L1198.0,1761.5 L1199.2,1763.2 L1200.8,1765.0 L1202.7,1766.6 L1204.9,1768.3 L1207.4,1769.9 L1210.1,1771.5 L1213.1,1773.1 L1216.4,1774.6 L1220.0,1776.1 L1223.9,1777.6 L1228.0,1779.0 L1232.3,1780.3 L1236.9,1781.6 L1241.7,1782.8 L1246.8,1784.0 L1252.1,1785.1 L1257.6,1786.2 L1263.2,1787.2 L1269.1,1788.1 L1275.2,1789.0 L1281.4,1789.7 L1287.8,1790.4 L1294.4,1791.1 L1301.1,1791.6 L1307.9,1792.1 L1314.9,1792.4 L1321.9,1792.7 L1329.1,1793.0 L1336.3,1793.1 L1343.7,1793.1 L1351.0,1793.1 L1358.5,1793.0 L1365.9,1792.7 L1373.4,1792.4 L1380.9,1792.0 L1388.4,1791.6 L1395.9,1791.0 L1403.3,1790.3 L1410.8,1789.6 L1418.1,1788.7 L1425.5,1787.8 L1432.7,1786.8 L1439.9,1785.7 L1446.9,1784.5 L1453.9,1783.2 L1460.7,1781.9 L1467.4,1780.5 L1474.0,1779.0 L1480.4,1777.4 L1486.6,1775.7 L1492.7,1774.0 L1498.6,1772.2 L1504.2,1770.3 L1509.7,1768.4 L1515.0,1766.4 L1520.1,1764.3 L1524.9,1762.2 L1529.5,1760.0 L1533.8,1757.8 L1537.9,1755.5 L1541.8,1753.2 L1545.4,1750.8 L1548.7,1748.4 L1551.7,1745.9 L1554.4,1743.4 L1556.9,1740.9 L1559.1,1738.4 L1561.0,1735.8 L1562.6,1733.2 L1563.8,1730.6 L1564.8,1728.0 L1565.5,1725.4 L1565.9,1722.7 L1566.0,1720.1 L1565.8,1717.5" stroke="#fff" stroke-width="25"/>
<path d="M1195.8,1685.9 L1195.9,1687.6 L1196.2,1689.3 L1196.8,1691.0 L1197.7,1692.7 L1198.9,1694.4 L1200.4,1696.1 L1202.1,1697.7 L1204.2,1699.3 L1206.5,1700.9 L1209.1,1702.5 L1212.0,1704.1 L1215.1,1705.6 L1218.5,1707.1 L1222.1,1708.5 L1226.0,1709.9 L1230.2,1711.2 L1234.6,1712.5 L1239.2,1713.7 L1244.0,1714.9 L1249.0,1716.1 L1254.3,1717.1 L1259.7,1718.1 L1265.4,1719.1 L1271.2,1720.0 L1277.2,1720.8 L1283.4,1721.5 L1289.7,1722.2 L1296.1,1722.8 L1302.7,1723.3 L1309.4,1723.7 L1316.2,1724.1 L1323.2,1724.3 L1330.2,1724.5 L1337.3,1724.7 L1344.4,1724.7 L1351.7,1724.6 L1358.9,1724.5 L1366.2,1724.3 L1373.6,1724.0 L1380.9,1723.6 L1388.2,1723.1 L1395.6,1722.6 L1402.9,1721.9 L1410.1,1721.2 L1417.4,1720.4 L1424.5,1719.5 L1431.6,1718.5 L1438.6,1717.4 L1445.6,1716.3 L1452.4,1715.1 L1459.1,1713.8 L1465.7,1712.4 L1472.1,1710.9 L1478.4,1709.4 L1484.6,1707.8 L1490.6,1706.1 L1496.4,1704.4 L1502.1,1702.6 L1507.5,1700.7 L1512.8,1698.8 L1517.8,1696.8 L1522.6,1694.7 L1527.2,1692.6 L1531.6,1690.5 L1535.8,1688.3 L1539.7,1686.0 L1543.3,1683.7 L1546.7,1681.4 L1549.8,1679.0 L1552.7,1676.6 L1555.3,1674.2 L1557.6,1671.7 L1559.7,1669.2 L1561.4,1666.7 L1562.9,1664.1 L1564.1,1661.6 L1565.0,1659.0 L1565.6,1656.5 L1565.9,1653.9 L1566.0,1651.3" stroke="#000" stroke-width="31"/>
<path d="M1196.0,1684.3 L1195.8,1686.1 L1195.9,1687.8 L1196.3,1689.6 L1197.0,1691.3 L1198.0,1693.1 L1199.2,1694.8 L1200.8,1696.5 L1202.7,1698.2 L1204.9,1699.8 L1207.4,1701.5 L1210.1,1703.1 L1213.1,1704.6 L1216.4,1706.2 L1220.0,1707.7 L1223.9,1709.1 L1228.0,1710.5 L1232.3,1711.9 L1236.9,1713.2 L1241.7,1714.4 L1246.8,1715.6 L1252.1,1716.7 L1257.6,1717.7 L1263.2,1718.7 L1269.1,1719.7 L1275.2,1720.5 L1281.4,1721.3 L1287.8,1722.0 L1294.4,1722.6 L1301.1,1723.1 L1307.9,1723.6 L1314.9,1724.0 L1321.9,1724.3 L1329.1,1724.5 L1336.3,1724.6 L1343.7,1724.7 L1351.0,1724.6 L1358.5,1724.5 L1365.9,1724.3 L1373.4,1724.0 L1380.9,1723.6 L1388.4,1723.1 L1395.9,1722.5 L1403.3,1721.9 L1410.8,1721.1 L1418.1,1720.3 L1425.5,1719.3 L1432.7,1718.3 L1439.9,1717.2 L1446.9,1716.1 L1453.9,1714.8 L1460.7,1713.4 L1467.4,1712.0 L1474.0,1710.5 L1480.4,1708.9 L1486.6,1707.3 L1492.7,1705.5 L1498.6,1703.7 L1504.2,1701.9 L1509.7,1699.9 L1515.0,1697.9 L1520.1,1695.9 L1524.9,1693.7 L1529.5,1691.6 L1533.8,1689.3 L1537.9,1687.0 L1541.8,1684.7 L1545.4,1682.3 L1548.7,1679.9 L1551.7,1677.5 L1554.4,1675.0 L1556.9,1672.5 L1559.1,1669.9 L1561.0,1667.4 L1562.6,1664.8 L1563.8,1662.2 L1564.8,1659.6 L1565.5,1656.9 L1565.9,1654.3 L1566.0,1651.7 L1565.8,1649.0" stroke="#fff" stroke-width="25"/>
</g>
<g clip-path="url(#spc)">
<polygon points="1190.0,1976.7 1193.2,1979.7 1196.5,1982.3 1199.8,1984.4 1203.0,1986.4 1206.2,1988.1 1209.5,1989.6 1212.8,1991.0 1216.0,1992.3 1219.2,1993.5 1222.5,1994.7 1225.8,1995.7 1229.0,1996.7 1232.2,1997.6 1235.5,1998.5 1238.8,1999.3 1242.0,2000.0 1245.2,2000.8 1248.5,2001.5 1251.8,2002.1 1255.0,2002.7 1258.2,2003.3 1261.5,2003.8 1264.8,2004.4 1268.0,2004.8 1271.2,2005.3 1274.5,2005.7 1277.8,2006.1 1281.0,2006.5 1284.2,2006.9 1287.5,2007.2 1290.8,2007.5 1294.0,2007.8 1297.2,2008.1 1300.5,2008.3 1303.8,2008.6 1307.0,2008.8 1310.2,2009.0 1313.5,2009.1 1316.8,2009.3 1320.0,2009.4 1320.0,2012.0 1316.8,2011.9 1313.5,2011.8 1310.2,2011.7 1307.0,2011.6 1303.8,2011.5 1300.5,2011.4 1297.2,2011.3 1294.0,2011.1 1290.8,2011.0 1287.5,2010.8 1284.2,2010.6 1281.0,2010.5 1277.8,2010.3 1274.5,2010.0 1271.2,2009.8 1268.0,2009.6 1264.8,2009.3 1261.5,2009.0 1258.2,2008.7 1255.0,2008.3 1251.8,2008.0 1248.5,2007.6 1245.2,2007.1 1242.0,2006.7 1238.8,2006.2 1235.5,2005.7 1232.2,2005.1 1229.0,2004.5 1225.8,2003.8 1222.5,2003.0 1219.2,2002.2 1216.0,2001.3 1212.8,2000.4 1209.5,1999.3 1206.2,1998.1 1203.0,1996.7 1199.8,1995.1 1196.5,1993.3 1193.2,1991.1 1190.0,1988.4" fill="#fff"/>
<polygon points="1194,1994.7 1216,2003.0 1216,2012.3 1194,2010.0" fill="#fff"/>
<path d="M1190.0,1988.4 L1193.2,1991.1 L1196.5,1993.3 L1199.8,1995.1 L1203.0,1996.7 L1206.2,1998.1 L1209.5,1999.3 L1212.8,2000.4 L1216.0,2001.3 L1219.2,2002.2 L1222.5,2003.0 L1225.8,2003.8 L1229.0,2004.5 L1232.2,2005.1 L1235.5,2005.7 L1238.8,2006.2 L1242.0,2006.7 L1245.2,2007.1 L1248.5,2007.6 L1251.8,2008.0 L1255.0,2008.3 L1258.2,2008.7 L1261.5,2009.0 L1264.8,2009.3 L1268.0,2009.6 L1271.2,2009.8 L1274.5,2010.0 L1277.8,2010.3 L1281.0,2010.5 L1284.2,2010.6 L1287.5,2010.8 L1290.8,2011.0 L1294.0,2011.1 L1297.2,2011.3 L1300.5,2011.4 L1303.8,2011.5 L1307.0,2011.6 L1310.2,2011.7 L1313.5,2011.8 L1316.8,2011.9 L1320.0,2012.0" fill="none" stroke="#000" stroke-width="3"/>
</g>
<g clip-path="url(#spc)">
<polygon points="1190.0,1908.2 1193.2,1911.3 1196.5,1913.8 1199.8,1916.0 1203.0,1917.9 1206.2,1919.6 1209.5,1921.2 1212.8,1922.6 1216.0,1923.9 1219.2,1925.1 1222.5,1926.2 1225.8,1927.2 1229.0,1928.2 1232.2,1929.1 1235.5,1930.0 1238.8,1930.8 1242.0,1931.6 1245.2,1932.3 1248.5,1933.0 1251.8,1933.6 1255.0,1934.3 1258.2,1934.8 1261.5,1935.4 1264.8,1935.9 1268.0,1936.4 1271.2,1936.8 1274.5,1937.3 1277.8,1937.7 1281.0,1938.1 1284.2,1938.4 1287.5,1938.8 1290.8,1939.1 1294.0,1939.4 1297.2,1939.6 1300.5,1939.9 1303.8,1940.1 1307.0,1940.3 1310.2,1940.5 1313.5,1940.7 1316.8,1940.8 1320.0,1941.0 1320.0,1943.6 1316.8,1943.5 1313.5,1943.4 1310.2,1943.3 1307.0,1943.2 1303.8,1943.1 1300.5,1942.9 1297.2,1942.8 1294.0,1942.7 1290.8,1942.5 1287.5,1942.4 1284.2,1942.2 1281.0,1942.0 1277.8,1941.8 1274.5,1941.6 1271.2,1941.4 1268.0,1941.1 1264.8,1940.8 1261.5,1940.5 1258.2,1940.2 1255.0,1939.9 1251.8,1939.5 1248.5,1939.1 1245.2,1938.7 1242.0,1938.2 1238.8,1937.7 1235.5,1937.2 1232.2,1936.6 1229.0,1936.0 1225.8,1935.3 1222.5,1934.6 1219.2,1933.8 1216.0,1932.9 1212.8,1931.9 1209.5,1930.8 1206.2,1929.6 1203.0,1928.2 1199.8,1926.7 1196.5,1924.9 1193.2,1922.7 1190.0,1920.0" fill="#fff"/>
<polygon points="1194,1926.2 1216,1934.6 1216,1943.9 1194,1941.5" fill="#fff"/>
<path d="M1190.0,1920.0 L1193.2,1922.7 L1196.5,1924.9 L1199.8,1926.7 L1203.0,1928.2 L1206.2,1929.6 L1209.5,1930.8 L1212.8,1931.9 L1216.0,1932.9 L1219.2,1933.8 L1222.5,1934.6 L1225.8,1935.3 L1229.0,1936.0 L1232.2,1936.6 L1235.5,1937.2 L1238.8,1937.7 L1242.0,1938.2 L1245.2,1938.7 L1248.5,1939.1 L1251.8,1939.5 L1255.0,1939.9 L1258.2,1940.2 L1261.5,1940.5 L1264.8,1940.8 L1268.0,1941.1 L1271.2,1941.4 L1274.5,1941.6 L1277.8,1941.8 L1281.0,1942.0 L1284.2,1942.2 L1287.5,1942.4 L1290.8,1942.5 L1294.0,1942.7 L1297.2,1942.8 L1300.5,1942.9 L1303.8,1943.1 L1307.0,1943.2 L1310.2,1943.3 L1313.5,1943.4 L1316.8,1943.5 L1320.0,1943.6" fill="none" stroke="#000" stroke-width="3"/>
</g>
<g clip-path="url(#spc)">
<polygon points="1190.0,1839.8 1193.2,1842.8 1196.5,1845.4 1199.8,1847.5 1203.0,1849.5 1206.2,1851.2 1209.5,1852.7 1212.8,1854.1 1216.0,1855.4 1219.2,1856.6 1222.5,1857.8 1225.8,1858.8 1229.0,1859.8 1232.2,1860.7 1235.5,1861.6 1238.8,1862.4 1242.0,1863.1 1245.2,1863.9 1248.5,1864.6 1251.8,1865.2 1255.0,1865.8 1258.2,1866.4 1261.5,1866.9 1264.8,1867.5 1268.0,1867.9 1271.2,1868.4 1274.5,1868.8 1277.8,1869.2 1281.0,1869.6 1284.2,1870.0 1287.5,1870.3 1290.8,1870.6 1294.0,1870.9 1297.2,1871.2 1300.5,1871.4 1303.8,1871.7 1307.0,1871.9 1310.2,1872.1 1313.5,1872.2 1316.8,1872.4 1320.0,1872.5 1320.0,1875.1 1316.8,1875.0 1313.5,1874.9 1310.2,1874.8 1307.0,1874.7 1303.8,1874.6 1300.5,1874.5 1297.2,1874.4 1294.0,1874.2 1290.8,1874.1 1287.5,1873.9 1284.2,1873.7 1281.0,1873.6 1277.8,1873.4 1274.5,1873.1 1271.2,1872.9 1268.0,1872.7 1264.8,1872.4 1261.5,1872.1 1258.2,1871.8 1255.0,1871.4 1251.8,1871.1 1248.5,1870.7 1245.2,1870.2 1242.0,1869.8 1238.8,1869.3 1235.5,1868.8 1232.2,1868.2 1229.0,1867.6 1225.8,1866.9 1222.5,1866.1 1219.2,1865.3 1216.0,1864.4 1212.8,1863.5 1209.5,1862.4 1206.2,1861.2 1203.0,1859.8 1199.8,1858.2 1196.5,1856.4 1193.2,1854.2 1190.0,1851.5" fill="#fff"/>
<polygon points="1194,1857.8 1216,1866.1 1216,1875.4 1194,1873.1" fill="#fff"/>
<path d="M1190.0,1851.5 L1193.2,1854.2 L1196.5,1856.4 L1199.8,1858.2 L1203.0,1859.8 L1206.2,1861.2 L1209.5,1862.4 L1212.8,1863.5 L1216.0,1864.4 L1219.2,1865.3 L1222.5,1866.1 L1225.8,1866.9 L1229.0,1867.6 L1232.2,1868.2 L1235.5,1868.8 L1238.8,1869.3 L1242.0,1869.8 L1245.2,1870.2 L1248.5,1870.7 L1251.8,1871.1 L1255.0,1871.4 L1258.2,1871.8 L1261.5,1872.1 L1264.8,1872.4 L1268.0,1872.7 L1271.2,1872.9 L1274.5,1873.1 L1277.8,1873.4 L1281.0,1873.6 L1284.2,1873.7 L1287.5,1873.9 L1290.8,1874.1 L1294.0,1874.2 L1297.2,1874.4 L1300.5,1874.5 L1303.8,1874.6 L1307.0,1874.7 L1310.2,1874.8 L1313.5,1874.9 L1316.8,1875.0 L1320.0,1875.1" fill="none" stroke="#000" stroke-width="3"/>
</g>
<g clip-path="url(#spc)">
<polygon points="1190.0,1771.3 1193.2,1774.4 1196.5,1776.9 1199.8,1779.1 1203.0,1781.0 1206.2,1782.7 1209.5,1784.3 1212.8,1785.7 1216.0,1787.0 1219.2,1788.2 1222.5,1789.3 1225.8,1790.3 1229.0,1791.3 1232.2,1792.2 1235.5,1793.1 1238.8,1793.9 1242.0,1794.7 1245.2,1795.4 1248.5,1796.1 1251.8,1796.7 1255.0,1797.4 1258.2,1797.9 1261.5,1798.5 1264.8,1799.0 1268.0,1799.5 1271.2,1799.9 1274.5,1800.4 1277.8,1800.8 1281.0,1801.2 1284.2,1801.5 1287.5,1801.9 1290.8,1802.2 1294.0,1802.5 1297.2,1802.7 1300.5,1803.0 1303.8,1803.2 1307.0,1803.4 1310.2,1803.6 1313.5,1803.8 1316.8,1803.9 1320.0,1804.1 1320.0,1806.7 1316.8,1806.6 1313.5,1806.5 1310.2,1806.4 1307.0,1806.3 1303.8,1806.2 1300.5,1806.0 1297.2,1805.9 1294.0,1805.8 1290.8,1805.6 1287.5,1805.5 1284.2,1805.3 1281.0,1805.1 1277.8,1804.9 1274.5,1804.7 1271.2,1804.5 1268.0,1804.2 1264.8,1803.9 1261.5,1803.6 1258.2,1803.3 1255.0,1803.0 1251.8,1802.6 1248.5,1802.2 1245.2,1801.8 1242.0,1801.3 1238.8,1800.8 1235.5,1800.3 1232.2,1799.7 1229.0,1799.1 1225.8,1798.4 1222.5,1797.7 1219.2,1796.9 1216.0,1796.0 1212.8,1795.0 1209.5,1793.9 1206.2,1792.7 1203.0,1791.3 1199.8,1789.8 1196.5,1788.0 1193.2,1785.8 1190.0,1783.1" fill="#fff"/>
<polygon points="1194,1789.3 1216,1797.7 1216,1807.0 1194,1804.6" fill="#fff"/>
<path d="M1190.0,1783.1 L1193.2,1785.8 L1196.5,1788.0 L1199.8,1789.8 L1203.0,1791.3 L1206.2,1792.7 L1209.5,1793.9 L1212.8,1795.0 L1216.0,1796.0 L1219.2,1796.9 L1222.5,1797.7 L1225.8,1798.4 L1229.0,1799.1 L1232.2,1799.7 L1235.5,1800.3 L1238.8,1800.8 L1242.0,1801.3 L1245.2,1801.8 L1248.5,1802.2 L1251.8,1802.6 L1255.0,1803.0 L1258.2,1803.3 L1261.5,1803.6 L1264.8,1803.9 L1268.0,1804.2 L1271.2,1804.5 L1274.5,1804.7 L1277.8,1804.9 L1281.0,1805.1 L1284.2,1805.3 L1287.5,1805.5 L1290.8,1805.6 L1294.0,1805.8 L1297.2,1805.9 L1300.5,1806.0 L1303.8,1806.2 L1307.0,1806.3 L1310.2,1806.4 L1313.5,1806.5 L1316.8,1806.6 L1320.0,1806.7" fill="none" stroke="#000" stroke-width="3"/>
</g>
<g clip-path="url(#spc)">
<polygon points="1190.0,1702.9 1193.2,1705.9 1196.5,1708.5 1199.8,1710.6 1203.0,1712.6 1206.2,1714.3 1209.5,1715.8 1212.8,1717.2 1216.0,1718.5 1219.2,1719.7 1222.5,1720.9 1225.8,1721.9 1229.0,1722.9 1232.2,1723.8 1235.5,1724.7 1238.8,1725.5 1242.0,1726.2 1245.2,1727.0 1248.5,1727.7 1251.8,1728.3 1255.0,1728.9 1258.2,1729.5 1261.5,1730.0 1264.8,1730.6 1268.0,1731.0 1271.2,1731.5 1274.5,1731.9 1277.8,1732.3 1281.0,1732.7 1284.2,1733.1 1287.5,1733.4 1290.8,1733.7 1294.0,1734.0 1297.2,1734.3 1300.5,1734.5 1303.8,1734.8 1307.0,1735.0 1310.2,1735.2 1313.5,1735.3 1316.8,1735.5 1320.0,1735.6 1320.0,1738.2 1316.8,1738.1 1313.5,1738.0 1310.2,1737.9 1307.0,1737.8 1303.8,1737.7 1300.5,1737.6 1297.2,1737.5 1294.0,1737.3 1290.8,1737.2 1287.5,1737.0 1284.2,1736.8 1281.0,1736.7 1277.8,1736.5 1274.5,1736.2 1271.2,1736.0 1268.0,1735.8 1264.8,1735.5 1261.5,1735.2 1258.2,1734.9 1255.0,1734.5 1251.8,1734.2 1248.5,1733.8 1245.2,1733.3 1242.0,1732.9 1238.8,1732.4 1235.5,1731.9 1232.2,1731.3 1229.0,1730.7 1225.8,1730.0 1222.5,1729.2 1219.2,1728.4 1216.0,1727.5 1212.8,1726.6 1209.5,1725.5 1206.2,1724.3 1203.0,1722.9 1199.8,1721.3 1196.5,1719.5 1193.2,1717.3 1190.0,1714.6" fill="#fff"/>
<polygon points="1194,1720.9 1216,1729.2 1216,1738.5 1194,1736.2" fill="#fff"/>
<path d="M1190.0,1714.6 L1193.2,1717.3 L1196.5,1719.5 L1199.8,1721.3 L1203.0,1722.9 L1206.2,1724.3 L1209.5,1725.5 L1212.8,1726.6 L1216.0,1727.5 L1219.2,1728.4 L1222.5,1729.2 L1225.8,1730.0 L1229.0,1730.7 L1232.2,1731.3 L1235.5,1731.9 L1238.8,1732.4 L1242.0,1732.9 L1245.2,1733.3 L1248.5,1733.8 L1251.8,1734.2 L1255.0,1734.5 L1258.2,1734.9 L1261.5,1735.2 L1264.8,1735.5 L1268.0,1735.8 L1271.2,1736.0 L1274.5,1736.2 L1277.8,1736.5 L1281.0,1736.7 L1284.2,1736.8 L1287.5,1737.0 L1290.8,1737.2 L1294.0,1737.3 L1297.2,1737.5 L1300.5,1737.6 L1303.8,1737.7 L1307.0,1737.8 L1310.2,1737.9 L1313.5,1738.0 L1316.8,1738.1 L1320.0,1738.2" fill="none" stroke="#000" stroke-width="3"/>
</g>
<g clip-path="url(#spc)">
<polygon points="1190.0,1634.4 1193.2,1637.5 1196.5,1640.0 1199.8,1642.2 1203.0,1644.1 1206.2,1645.8 1209.5,1647.4 1212.8,1648.8 1216.0,1650.1 1219.2,1651.3 1222.5,1652.4 1225.8,1653.4 1229.0,1654.4 1232.2,1655.3 1235.5,1656.2 1238.8,1657.0 1242.0,1657.8 1245.2,1658.5 1248.5,1659.2 1251.8,1659.8 1255.0,1660.5 1258.2,1661.0 1261.5,1661.6 1264.8,1662.1 1268.0,1662.6 1271.2,1663.0 1274.5,1663.5 1277.8,1663.9 1281.0,1664.3 1284.2,1664.6 1287.5,1665.0 1290.8,1665.3 1294.0,1665.6 1297.2,1665.8 1300.5,1666.1 1303.8,1666.3 1307.0,1666.5 1310.2,1666.7 1313.5,1666.9 1316.8,1667.0 1320.0,1667.2 1320.0,1669.8 1316.8,1669.7 1313.5,1669.6 1310.2,1669.5 1307.0,1669.4 1303.8,1669.3 1300.5,1669.1 1297.2,1669.0 1294.0,1668.9 1290.8,1668.7 1287.5,1668.6 1284.2,1668.4 1281.0,1668.2 1277.8,1668.0 1274.5,1667.8 1271.2,1667.6 1268.0,1667.3 1264.8,1667.0 1261.5,1666.7 1258.2,1666.4 1255.0,1666.1 1251.8,1665.7 1248.5,1665.3 1245.2,1664.9 1242.0,1664.4 1238.8,1663.9 1235.5,1663.4 1232.2,1662.8 1229.0,1662.2 1225.8,1661.5 1222.5,1660.8 1219.2,1660.0 1216.0,1659.1 1212.8,1658.1 1209.5,1657.0 1206.2,1655.8 1203.0,1654.4 1199.8,1652.9 1196.5,1651.1 1193.2,1648.9 1190.0,1646.2" fill="#fff"/>
<polygon points="1194,1652.4 1216,1660.8 1216,1670.1 1194,1667.7" fill="#fff"/>
<path d="M1190.0,1646.2 L1193.2,1648.9 L1196.5,1651.1 L1199.8,1652.9 L1203.0,1654.4 L1206.2,1655.8 L1209.5,1657.0 L1212.8,1658.1 L1216.0,1659.1 L1219.2,1660.0 L1222.5,1660.8 L1225.8,1661.5 L1229.0,1662.2 L1232.2,1662.8 L1235.5,1663.4 L1238.8,1663.9 L1242.0,1664.4 L1245.2,1664.9 L1248.5,1665.3 L1251.8,1665.7 L1255.0,1666.1 L1258.2,1666.4 L1261.5,1666.7 L1264.8,1667.0 L1268.0,1667.3 L1271.2,1667.6 L1274.5,1667.8 L1277.8,1668.0 L1281.0,1668.2 L1284.2,1668.4 L1287.5,1668.6 L1290.8,1668.7 L1294.0,1668.9 L1297.2,1669.0 L1300.5,1669.1 L1303.8,1669.3 L1307.0,1669.4 L1310.2,1669.5 L1313.5,1669.6 L1316.8,1669.7 L1320.0,1669.8" fill="none" stroke="#000" stroke-width="3"/>
</g>
<path d="M1297,1968 Q1375,1930 1454,1968" stroke="#000" stroke-width="2.6" fill="none" />
<rect x="1357.5" y="1960" width="48" height="26" fill="none" stroke="#000" stroke-width="3"/>
<path d="M1359,1966 L1404,1960" stroke="#000" stroke-width="2.4" fill="none" />
<line x1="1290.5" y1="1944.0" x2="1290.5" y2="1981.0" stroke="#000" stroke-width="3.5" />
<line x1="1295.5" y1="1944.0" x2="1295.5" y2="1981.0" stroke="#000" stroke-width="2.5" />
<line x1="1463.0" y1="1926.0" x2="1463.0" y2="1968.0" stroke="#000" stroke-width="3" />
<line x1="1475.0" y1="1926.0" x2="1475.0" y2="1968.0" stroke="#000" stroke-width="3" />
<clipPath id="dc"><rect x="1196" y="1400" width="480" height="400"/></clipPath>
<g clip-path="url(#dc)">
<path d="M1172,1550 A205,66.5 0 0 1 1582,1550 L1582,1621 A205,69.3 0 0 1 1172,1621 Z" fill="#040604"/>
<path d="M1200.5,1586.1 A200,70.8 0 0 0 1559,1582.9" fill="none" stroke="#727272" stroke-width="5.5"/>
<ellipse cx="1377" cy="1557" rx="66" ry="19.5" fill="#fbfdfb"/>
<path d="M1311,1552 Q1377,1541 1443,1552" stroke="#000" stroke-width="2.4" fill="none" />
</g>
<text transform="translate(860.85,1341.90) scale(0.6990,0.6380)" font-family="Liberation Sans" font-weight="bold" font-size="100" fill="#e2a45c">A</text>
<text transform="translate(864.05,1341.90) scale(0.6990,0.6380)" font-family="Liberation Sans" font-weight="bold" font-size="100" fill="#3a82d6">A</text>
<text transform="translate(862.45,1341.90) scale(0.6990,0.6380)" font-family="Liberation Sans" font-weight="bold" font-size="100" fill="#000">A</text>
<text transform="translate(886.10,2026.80) scale(0.6246,0.6150)" font-family="Liberation Sans" font-weight="bold" font-size="100" fill="#e2a45c">B</text>
<text transform="translate(889.30,2026.80) scale(0.6246,0.6150)" font-family="Liberation Sans" font-weight="bold" font-size="100" fill="#3a82d6">B</text>
<text transform="translate(887.70,2026.80) scale(0.6246,0.6150)" font-family="Liberation Sans" font-weight="bold" font-size="100" fill="#000">B</text>
<text transform="translate(1412.90,2187.00) scale(0.4660,0.6160)" font-family="Liberation Sans" font-weight="bold" font-size="100" fill="#e2a45c">C</text>
<text transform="translate(1416.10,2187.00) scale(0.4660,0.6160)" font-family="Liberation Sans" font-weight="bold" font-size="100" fill="#3a82d6">C</text>
<text transform="translate(1414.50,2187.00) scale(0.4660,0.6160)" font-family="Liberation Sans" font-weight="bold" font-size="100" fill="#000">C</text>
</svg>
<!--/SVG-->
<div id="hr"></div>
<div id="box"></div>
<div class="t b" id="t1" style="left:176.3px;top:271.8px;font-style:italic;">Dimensions</div>
<div class="t r" id="t2" style="left:260px;top:346.8px;">(Inches)</div>
<div class="t b" id="t3" style="left:656.5px;top:281.7px;">Model:</div>
<div class="t r" id="t4" style="left:852.3px;top:284.7px;">8860059</div>

<div class="t b" id="t5" style="left:194px;top:670.8px;">WIDTH “A”</div>
<div class="t b" id="t6" style="left:250.3px;top:730.9px;">4-1/2”</div>
<div class="t b" id="t7" style="left:1122.5px;top:670.7px;">HEIGHT “B”</div>
<div class="t b" id="t8" style="left:1193px;top:730.6px;">2-1/4”</div>
<div class="t b" id="t9" style="left:2018.3px;top:670.6px;">WIDTH “C”</div>
<div class="t b" id="t10" style="left:2130.7px;top:730.7px;">3”</div>

<div class="t b" id="t11" style="left:2129.6px;top:1070.8px;">HANGER</div>
<div class="t b" id="t12" style="left:2182px;top:1130.5px;">ROD</div>
<div class="t b" id="t13" style="left:2107.5px;top:1190.6px;">DIAMETER</div>
<div class="t b" id="t14" style="left:2162px;top:1250.7px;">UP TO</div>
<div class="t b" id="t15" style="left:2204.3px;top:1310.4px;">1/2”</div>

<div class="t b" id="t16" style="left:179.5px;top:2320.8px;">Standard Features</div>
<div class="ul" style="left:180px;top:2369.6px;width:440px;height:4.4px;"></div>
<div class="t b" id="t17" style="left:185px;top:2496.3px;">Spring Hanging Vibration Isolators</div>
<div class="ul" style="left:185px;top:2544px;width:827px;height:5px;"></div>

<div class="dot" style="left:187.5px;top:2634.7px;"></div>
<div class="dot" style="left:187.5px;top:2694.3px;"></div>
<div class="dot" style="left:187.5px;top:2753.9px;"></div>
<div class="t r12" id="t18" style="left:242px;top:2616.6px;">Hanging rubber-in-shear isolators</div>
<div class="t r12" id="t19" style="left:242px;top:2676.2px;">Reduces vibration transmission</div>
<div class="t r12" id="t20" style="left:242px;top:2735.8px;">Suitable for indoor and outdoor use</div>

</body></html>
